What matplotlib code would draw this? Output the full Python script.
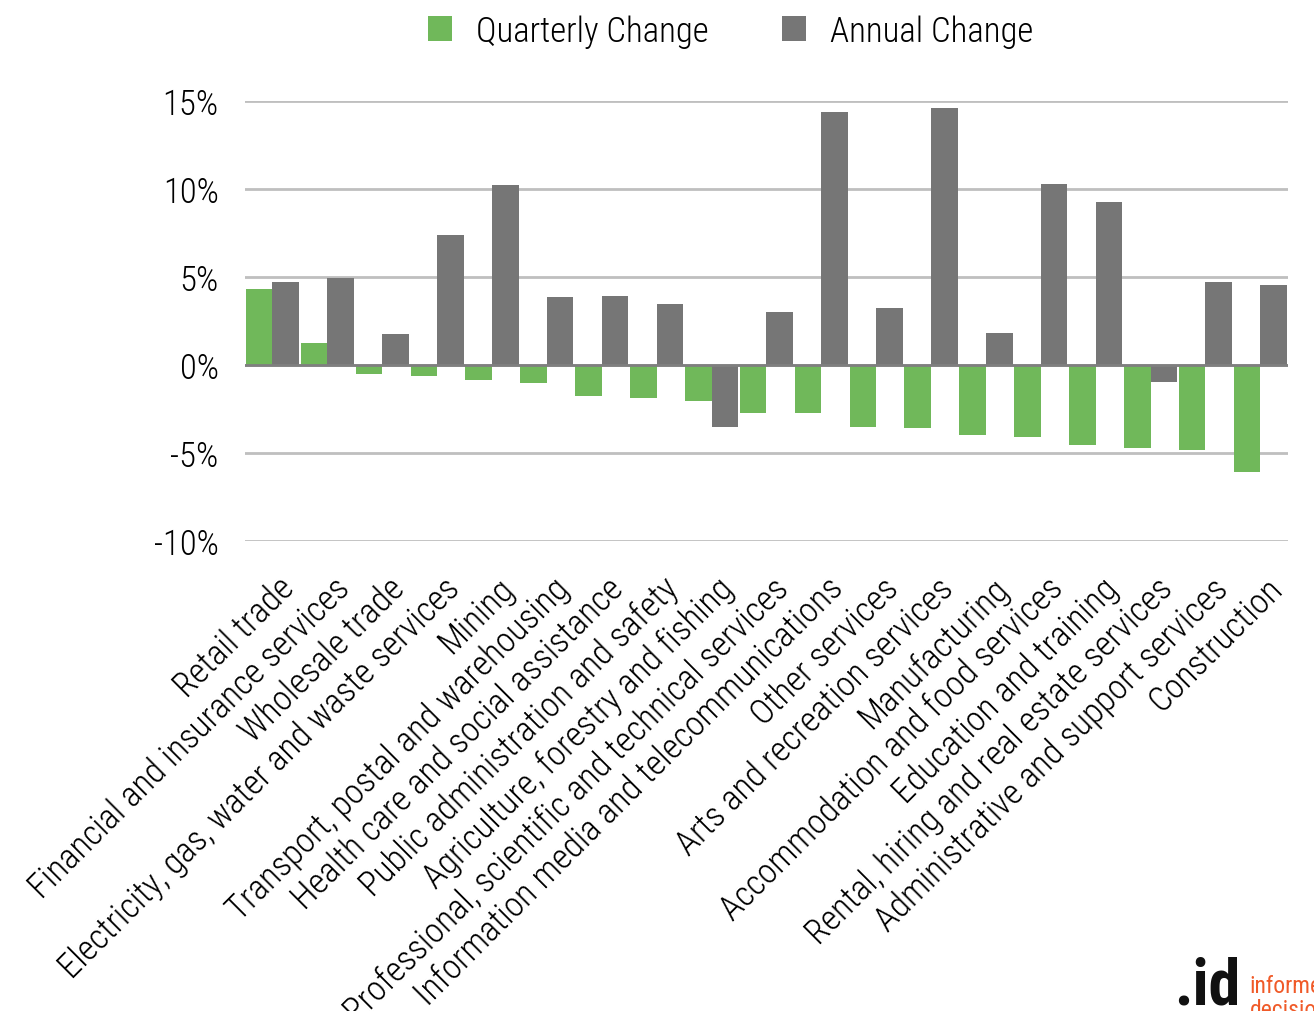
import matplotlib
matplotlib.use('Agg')
import matplotlib.pyplot as plt
import matplotlib.transforms as mtransforms
import numpy as np

plt.rcParams['font.family'] = ['Roboto Condensed', 'Roboto', 'DejaVu Sans']

categories = [
    'Retail trade',
    'Financial and insurance services',
    'Wholesale trade',
    'Electricity, gas, water and waste services',
    'Mining',
    'Transport, postal and warehousing',
    'Health care and social assistance',
    'Public administration and safety',
    'Agriculture, forestry and fishing',
    'Professional, scientific and technical services',
    'Information media and telecommunications',
    'Other services',
    'Arts and recreation services',
    'Manufacturing',
    'Accommodation and food services',
    'Education and training',
    'Rental, hiring and real estate services',
    'Administrative and support services',
    'Construction',
]
quarterly = [4.3, 1.25, -0.5, -0.6, -0.85, -1.0, -1.75, -1.9, -2.05, -2.7, -2.7,
             -3.5, -3.6, -4.0, -4.1, -4.55, -4.7, -4.85, -6.1]
annual = [4.7, 4.95, 1.75, 7.4, 10.2, 3.85, 3.9, 3.45, -3.5, 3.0, 14.4,
          3.25, 14.6, 1.8, 10.3, 9.25, -0.95, 4.7, 4.55]
yticks = [-10, -5, 0, 5, 10, 15]

green = '#70b85a'
grey = '#767676'

fig = plt.figure(figsize=(13.14, 10.12), dpi=100)
ax = fig.add_axes([0.1865, 0.4644, 0.7935, 0.4348])

x = np.arange(len(categories))
w = 0.485
ax.bar(x - w / 2, quarterly, w, color=green, label='Quarterly Change', zorder=2)
ax.bar(x + w / 2, annual, w, color=grey, label='Annual Change', zorder=2)

ax.set_xlim(-0.5, len(categories) - 0.5)
ax.set_ylim(-10, 15)
ax.set_yticks(yticks)
ax.set_yticklabels(['%d%%' % v for v in yticks], fontsize=25, fontweight='light')
ax.yaxis.grid(True, color='#bfbfbf', linewidth=2, zorder=0)
ax.axhline(0, color='#7f7f7f', linewidth=2, zorder=3)
for s in ax.spines.values():
    s.set_visible(False)
ax.tick_params(axis='y', length=0, pad=19)

ax.set_xticks(x)
ax.set_xticklabels(categories, rotation=45, ha='right', va='top',
                   rotation_mode='anchor', fontsize=25, fontweight='light')
ax.tick_params(axis='x', length=0, pad=20)
shift = mtransforms.ScaledTranslation(0.05, -0.02, fig.dpi_scale_trans)
for lbl in ax.get_xticklabels():
    lbl.set_transform(lbl.get_transform() + shift)

fig.legend(loc='upper center', bbox_to_anchor=(0.556, 1.016), ncol=2, frameon=False,
           prop={'size': 25, 'weight': 'light'}, handlelength=0.7, handleheight=0.7,
           columnspacing=2.1, handletextpad=0.7)

fig.text(0.944, -0.005, '.id', fontsize=46, fontweight='bold', color='#111111',
         ha='right', va='bottom')
fig.text(0.951, 0.014, 'informed', fontsize=17, color='#f05a28', ha='left', va='bottom')
fig.text(0.951, -0.010, 'decisions', fontsize=17, color='#f05a28', ha='left', va='bottom')

fig.savefig('out.png', dpi=100)
